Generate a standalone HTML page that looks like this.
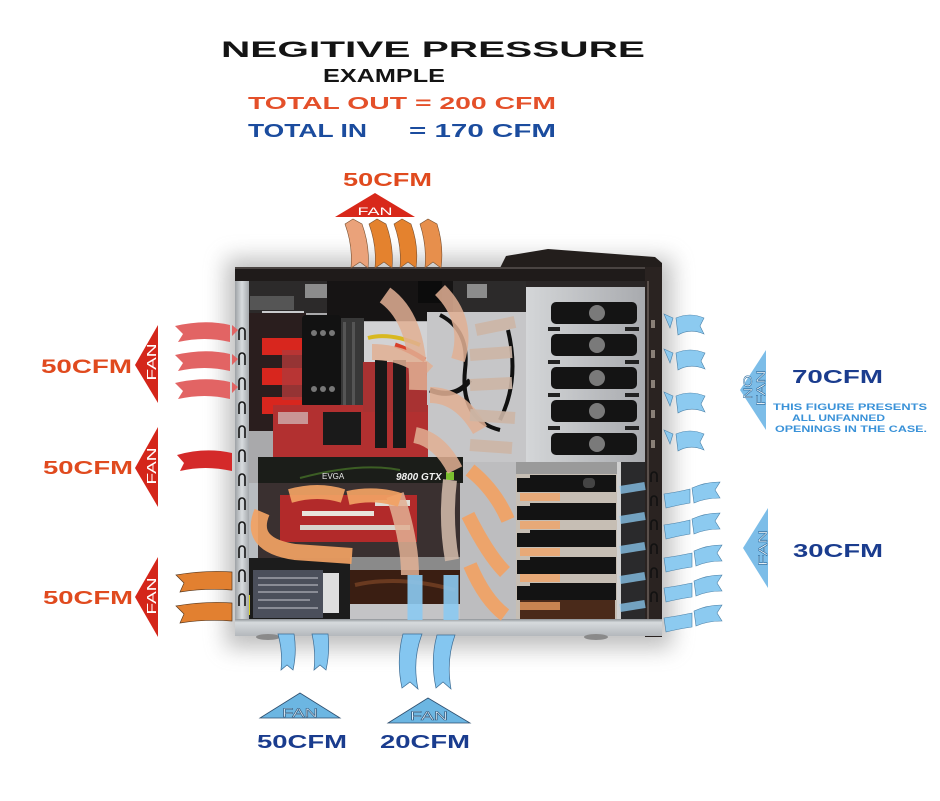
<!DOCTYPE html>
<html><head><meta charset="utf-8"><style>
html,body{margin:0;padding:0;background:#fff;}
svg{display:block;}
text{font-family:"Liberation Sans",sans-serif;font-weight:bold;}
text.n{font-weight:normal;}
</style></head><body>
<svg width="940" height="801" viewBox="0 0 940 801" xmlns="http://www.w3.org/2000/svg">
<defs>
<filter id="sh" x="-20%" y="-20%" width="140%" height="140%"><feGaussianBlur stdDeviation="11"/></filter>
<linearGradient id="rail" x1="0" y1="0" x2="0" y2="1"><stop offset="0" stop-color="#8f9498"/><stop offset="0.2" stop-color="#d6dadd"/><stop offset="1" stop-color="#b4b8bc"/></linearGradient>
<linearGradient id="lframe" x1="0" y1="0" x2="1" y2="0"><stop offset="0" stop-color="#9ea2a6"/><stop offset="0.5" stop-color="#d8dcdf"/><stop offset="1" stop-color="#a4a8ac"/></linearGradient>
<linearGradient id="bay" x1="0" y1="0" x2="1" y2="0"><stop offset="0" stop-color="#d4d6d8"/><stop offset="1" stop-color="#a8aaae"/></linearGradient>
</defs>
<rect width="940" height="801" fill="#fff"/>

<!-- TITLE -->
<text x="221" y="57" font-size="22" fill="#141414" textLength="424" lengthAdjust="spacingAndGlyphs">NEGITIVE PRESSURE</text>
<text x="323" y="82" font-size="18" fill="#141414" textLength="122" lengthAdjust="spacingAndGlyphs">EXAMPLE</text>
<text x="248" y="109" font-size="17.5" fill="#e4502a" textLength="308" lengthAdjust="spacingAndGlyphs">TOTAL OUT = 200 CFM</text>
<text x="248" y="137" font-size="18.5" fill="#1b4c9e" textLength="119" lengthAdjust="spacingAndGlyphs">TOTAL IN</text>
<text x="409" y="137" font-size="18.5" fill="#1b4c9e" textLength="147" lengthAdjust="spacingAndGlyphs">= 170 CFM</text>

<!-- CASE SHADOW -->
<rect x="226" y="258" width="446" height="390" fill="#8a8a8a" opacity="0.55" filter="url(#sh)"/>

<!-- CASE BODY -->
<polygon points="500,268 506,256 548,249 655,257 662,263 662,268" fill="#231e1c"/>
<rect x="235" y="267" width="427" height="14" fill="#1f1b1a"/>
<rect x="235" y="267" width="427" height="2" fill="#4a4442"/>
<rect x="248" y="281" width="398" height="339" fill="#a9a9ab"/>
<rect x="248" y="281" width="278" height="32" fill="#2c2a2a"/>
<rect x="327" y="281" width="126" height="40" fill="#161414"/>
<rect x="305" y="284" width="22" height="14" fill="#8c8c8c"/>
<rect x="467" y="284" width="20" height="14" fill="#8c8c8c"/>
<rect x="418" y="281" width="24" height="22" fill="#0c0c0c"/>
<rect x="250" y="296" width="44" height="14" fill="#555"/>
<rect x="262" y="311" width="42" height="14" fill="#c9cbcd"/>
<rect x="248" y="313" width="58" height="118" fill="#2a1e1e"/>
<rect x="262" y="338" width="42" height="17" fill="#d8261e"/>
<rect x="262" y="368" width="42" height="17" fill="#d8261e"/>
<rect x="262" y="397" width="42" height="17" fill="#d8261e"/>
<rect x="282" y="350" width="20" height="50" fill="#b03a3a" opacity="0.8"/>
<rect x="363" y="322" width="64" height="42" fill="#d2d2d4"/>
<rect x="427" y="312" width="99" height="150" fill="#c6c6c8"/>
<rect x="460" y="462" width="57" height="158" fill="#bdbdbf"/>
<rect x="302" y="315" width="39" height="93" rx="4" fill="#121212"/>
<rect x="341" y="318" width="23" height="92" fill="#383838"/>
<rect x="343" y="322" width="3" height="85" fill="#555"/>
<rect x="352" y="322" width="3" height="85" fill="#555"/>
<circle cx="314" cy="333" r="3" fill="#777"/><circle cx="323" cy="333" r="3" fill="#777"/><circle cx="332" cy="333" r="3" fill="#777"/>
<circle cx="314" cy="389" r="3" fill="#777"/><circle cx="323" cy="389" r="3" fill="#777"/><circle cx="332" cy="389" r="3" fill="#777"/>
<rect x="273" y="405" width="155" height="53" fill="#b23030"/>
<rect x="363" y="362" width="64" height="50" fill="#a83232"/>
<rect x="375" y="360" width="12" height="88" fill="#181818"/>
<rect x="393" y="360" width="13" height="88" fill="#181818"/>
<rect x="323" y="412" width="38" height="33" fill="#1a1a1a"/>
<rect x="278" y="412" width="30" height="12" fill="#d8d8d8" opacity="0.6"/>
<path d="M368,338 Q390,332 420,345" stroke="#d8b820" stroke-width="4" fill="none"/>
<path d="M395,345 Q410,350 425,360" stroke="#d8402a" stroke-width="5" fill="none"/>
<path d="M440,315 Q470,330 465,370 Q460,420 500,430" stroke="#111" stroke-width="4" fill="none"/>
<path d="M508,330 Q520,380 500,420" stroke="#111" stroke-width="4" fill="none"/>
<path d="M430,390 Q455,400 470,380" stroke="#111" stroke-width="5" fill="none"/>
<rect x="526" y="281" width="120" height="8" fill="#2a2626"/>
<rect x="526" y="287" width="120" height="176" fill="url(#bay)"/>
<g fill="#141414">
<rect x="551" y="302" width="86" height="22" rx="5"/>
<rect x="551" y="334" width="86" height="22" rx="5"/>
<rect x="551" y="367" width="86" height="22" rx="5"/>
<rect x="551" y="400" width="86" height="22" rx="5"/>
<rect x="551" y="433" width="86" height="22" rx="5"/>
</g>
<g fill="#7a7a7a">
<circle cx="597" cy="313" r="8"/><circle cx="597" cy="345" r="8"/><circle cx="597" cy="378" r="8"/><circle cx="597" cy="411" r="8"/><circle cx="597" cy="444" r="8"/>
</g>
<g fill="#222">
<rect x="548" y="327" width="12" height="4"/><rect x="625" y="327" width="14" height="4"/>
<rect x="548" y="360" width="12" height="4"/><rect x="625" y="360" width="14" height="4"/>
<rect x="548" y="393" width="12" height="4"/><rect x="625" y="393" width="14" height="4"/>
<rect x="548" y="426" width="12" height="4"/><rect x="625" y="426" width="14" height="4"/>
</g>
<rect x="258" y="457" width="205" height="26" fill="#1b1d19"/>
<path d="M300,478 Q360,462 400,470" stroke="#4a7a2a" stroke-width="2" fill="none" opacity="0.7"/>
<text class="n" x="322" y="479" font-size="8" fill="#e8e8e8">EVGA</text>
<text x="396" y="480" font-size="10" fill="#f0f0f0" font-style="italic">9800 GTX</text>
<rect x="446" y="472" width="8" height="8" fill="#7cc030"/>
<rect x="248" y="483" width="212" height="75" fill="#3a3030"/>
<rect x="248" y="483" width="10" height="75" fill="#b8bcc0"/>
<rect x="280" y="495" width="137" height="47" fill="#b22a2a"/>
<rect x="302" y="511" width="72" height="5" fill="#e8e4dc"/>
<rect x="300" y="525" width="110" height="5" fill="#d8d4cc"/>
<rect x="375" y="500" width="35" height="6" fill="#e0dcd4"/>
<rect x="243" y="558" width="107" height="62" fill="#1c1c1c"/>
<rect x="253" y="570" width="70" height="48" fill="#4b4f5b"/>
<g stroke="#c8c8d0" stroke-width="1">
<line x1="258" y1="578" x2="318" y2="578"/><line x1="258" y1="585" x2="318" y2="585"/><line x1="258" y1="592" x2="318" y2="592"/><line x1="258" y1="600" x2="310" y2="600"/><line x1="258" y1="608" x2="318" y2="608"/>
</g>
<rect x="323" y="573" width="16" height="40" fill="#dedede"/>
<rect x="244" y="595" width="6" height="20" fill="#d8d020"/>
<rect x="350" y="570" width="110" height="34" fill="#3a1e12"/>
<path d="M355,585 Q400,575 455,590" stroke="#6a3a20" stroke-width="4" fill="none"/>
<rect x="350" y="604" width="110" height="16" fill="#c4c4c6"/>
<rect x="350" y="557" width="110" height="13" fill="#8a8a8a"/>
<rect x="516" y="462" width="103" height="158" fill="#c6beb4"/>
<rect x="516" y="462" width="103" height="12" fill="#9a9a9a"/>
<path d="M520,600 Q560,585 615,600 L615,620 L520,620 Z" fill="#4a2a1a"/>
<g fill="#131313">
<rect x="530" y="475" width="86" height="17"/><rect x="517" y="478" width="13" height="14"/>
<rect x="530" y="503" width="86" height="17"/><rect x="517" y="506" width="13" height="14"/>
<rect x="530" y="530" width="86" height="17"/><rect x="517" y="533" width="13" height="14"/>
<rect x="530" y="557" width="86" height="17"/><rect x="517" y="560" width="13" height="14"/>
<rect x="530" y="583" width="86" height="17"/><rect x="517" y="586" width="13" height="14"/>
</g>
<rect x="583" y="478" width="12" height="10" rx="4" fill="#444"/>
<rect x="619" y="462" width="28" height="158" fill="#2a2a2c"/>
<rect x="617" y="462" width="4" height="158" fill="#d0d0d0"/>
<rect x="645" y="267" width="17" height="370" fill="#2a2321"/>
<rect x="647" y="281" width="2" height="340" fill="#5a504c"/>
<g fill="none" stroke="#111" stroke-width="1.6">
<path d="M651,482 v-7 a3,3 0 0 1 6,0 v7"/><path d="M651,506 v-7 a3,3 0 0 1 6,0 v7"/><path d="M651,530 v-7 a3,3 0 0 1 6,0 v7"/><path d="M651,554 v-7 a3,3 0 0 1 6,0 v7"/><path d="M651,578 v-7 a3,3 0 0 1 6,0 v7"/><path d="M651,602 v-7 a3,3 0 0 1 6,0 v7"/>
</g>
<g fill="#8a8078">
<rect x="651" y="320" width="4" height="8"/><rect x="651" y="350" width="4" height="8"/><rect x="651" y="380" width="4" height="8"/><rect x="651" y="410" width="4" height="8"/><rect x="651" y="440" width="4" height="8"/>
</g>
<rect x="235" y="281" width="14" height="354" fill="url(#lframe)"/>
<g fill="none" stroke="#151515" stroke-width="1.6">
<path d="M239,340 v-9 a3,3 0 0 1 6,0 v9"/><path d="M239,365 v-9 a3,3 0 0 1 6,0 v9"/><path d="M239,390 v-9 a3,3 0 0 1 6,0 v9"/><path d="M239,414 v-9 a3,3 0 0 1 6,0 v9"/><path d="M239,438 v-9 a3,3 0 0 1 6,0 v9"/><path d="M239,462 v-9 a3,3 0 0 1 6,0 v9"/><path d="M239,486 v-9 a3,3 0 0 1 6,0 v9"/><path d="M239,510 v-9 a3,3 0 0 1 6,0 v9"/><path d="M239,534 v-9 a3,3 0 0 1 6,0 v9"/><path d="M239,558 v-9 a3,3 0 0 1 6,0 v9"/><path d="M239,582 v-9 a3,3 0 0 1 6,0 v9"/><path d="M239,606 v-9 a3,3 0 0 1 6,0 v9"/>
</g>
<rect x="235" y="619" width="427" height="17" fill="url(#rail)"/>
<ellipse cx="268" cy="637" rx="12" ry="3" fill="#8a8a8a"/>
<ellipse cx="596" cy="637" rx="12" ry="3" fill="#8a8a8a"/>

<!-- TRANSLUCENT INNER ARROWS -->
<g fill="none" stroke-linecap="butt">
<g stroke="#e2b094" opacity="0.85">
<path d="M385,295 Q420,320 418,390" stroke-width="18"/>
<path d="M372,352 Q405,352 428,372" stroke-width="16"/>
<path d="M440,290 Q470,320 458,360" stroke-width="14"/>
<path d="M430,395 Q460,395 480,430" stroke-width="16"/>
<path d="M415,435 Q440,440 455,470" stroke-width="16"/>
<path d="M395,495 Q410,540 410,575" stroke-width="18"/>
</g>
<g stroke="#cdb6a6" opacity="0.9">
<path d="M476,330 L515,322" stroke-width="12"/>
<path d="M470,355 L512,352" stroke-width="12"/>
<path d="M470,385 L512,383" stroke-width="12"/>
<path d="M470,415 L515,418" stroke-width="12"/>
<path d="M470,445 L512,448" stroke-width="12"/>
<path d="M450,480 Q445,520 452,560" stroke-width="14"/>
</g>
<g stroke="#f2a264" opacity="0.92">
<path d="M470,470 Q495,490 508,520" stroke-width="14"/>
<path d="M468,515 Q488,555 505,572" stroke-width="14"/>
<path d="M470,565 Q485,600 505,615" stroke-width="14"/>
<path d="M290,496 Q318,488 343,496" stroke-width="14"/>
<path d="M348,498 Q375,492 400,500" stroke-width="14"/>
<path d="M262,512 Q248,545 295,552 L352,556" stroke-width="16"/>
</g>
<g stroke="#f2a264" opacity="0.75">
<path d="M520,497 L560,497"  stroke-width="8"/>
<path d="M520,525 L560,525"  stroke-width="8"/>
<path d="M520,552 L560,552"  stroke-width="8"/>
<path d="M520,578 L560,578"  stroke-width="8"/>
<path d="M520,606 L560,606"  stroke-width="8"/>
</g>
<g stroke="#8ccaf2" opacity="0.9">
<path d="M415,575 L415,620" stroke-width="15"/>
<path d="M451,575 L451,620" stroke-width="15"/>
</g>
<g stroke="#8ccaf2" opacity="0.75">
<path d="M620,490 L645,486" stroke-width="8"/>
<path d="M620,520 L645,516" stroke-width="8"/>
<path d="M620,550 L645,546" stroke-width="8"/>
<path d="M620,580 L645,576" stroke-width="8"/>
<path d="M620,608 L645,604" stroke-width="8"/>
</g>
</g>

<!-- TOP EXHAUST -->
<text x="343" y="186" font-size="18" fill="#e04a1e" textLength="89" lengthAdjust="spacingAndGlyphs">50CFM</text>
<polygon points="375,193 335,217 415,217" fill="#d8281a"/>
<text class="n" x="375" y="215" font-size="11" fill="#fff" text-anchor="middle" textLength="35" lengthAdjust="spacingAndGlyphs">FAN</text>
<g stroke="#7a5030" stroke-width="0.6">
<path d="M345,224 L353,219 L362,224 Q370,246 368,268 L360,262 L351,268 Q353,246 345,224Z" fill="#eaa27a"/>
<path d="M369,224 L377,219 L386,224 Q394,246 392,268 L384,262 L375,268 Q377,246 369,224Z" fill="#e4822e"/>
<path d="M394,224 L402,219 L411,224 Q419,246 416,268 L408,262 L400,268 Q402,246 394,224Z" fill="#e4822e"/>
<path d="M420,224 L428,219 L437,224 Q444,246 441,268 L433,262 L425,268 Q427,246 420,224Z" fill="#e78f4c"/>
</g>

<!-- LEFT EXHAUSTS -->
<g>
<text x="41" y="373" font-size="19" fill="#e04a1e" textLength="91" lengthAdjust="spacingAndGlyphs">50CFM</text>
<polygon points="135,365 158,325 158,403" fill="#d4261a"/>
<text class="n" transform="translate(156,362) rotate(-90)" font-size="12.5" fill="#fff" text-anchor="middle" textLength="37" lengthAdjust="spacingAndGlyphs">FAN</text>
<text x="43" y="474" font-size="18" fill="#e04a1e" textLength="90" lengthAdjust="spacingAndGlyphs">50CFM</text>
<polygon points="135,468 158,427 158,507" fill="#d4261a"/>
<text class="n" transform="translate(156,466) rotate(-90)" font-size="12.5" fill="#fff" text-anchor="middle" textLength="37" lengthAdjust="spacingAndGlyphs">FAN</text>
<text x="43" y="604" font-size="18" fill="#e04a1e" textLength="90" lengthAdjust="spacingAndGlyphs">50CFM</text>
<polygon points="135,597 158,557 158,637" fill="#d4261a"/>
<text class="n" transform="translate(156,596) rotate(-90)" font-size="12.5" fill="#fff" text-anchor="middle" textLength="37" lengthAdjust="spacingAndGlyphs">FAN</text>
</g>
<g>
<path d="M175,326 Q205,319 230,325 L230,342 Q205,336 178,342 L183,334 Z" fill="#e26464"/>
<path d="M175,355 Q205,348 230,354 L230,371 Q205,365 178,371 L183,363 Z" fill="#e26464"/>
<path d="M175,383 Q205,376 230,382 L230,399 Q205,393 178,399 L183,391 Z" fill="#e26464"/>
<path d="M232,325 L238,330 L232,336Z M232,354 L238,359 L232,365Z M232,382 L238,387 L232,393Z" fill="#e26464"/>
<path d="M177,455 Q205,447 232,453 L232,471 Q205,465 180,471 L184,463 Z" fill="#d42a2a"/>
<path d="M176,575 Q205,570 232,572 L232,590 Q205,588 180,592 L184,583 Z" fill="#e28030" stroke="#5a3a20" stroke-width="0.7"/>
<path d="M176,606 Q205,601 232,603 L232,621 Q205,619 180,623 L184,614 Z" fill="#e28030" stroke="#5a3a20" stroke-width="0.7"/>
</g>

<!-- RIGHT INTAKES -->
<polygon points="740,390 766,350 766,430" fill="#7cbde8"/>
<text class="n" transform="translate(752,387) rotate(-90)" font-size="12" fill="#fff" stroke="#2e6ea0" stroke-width="0.5" text-anchor="middle" textLength="24" lengthAdjust="spacingAndGlyphs">NO</text>
<text class="n" transform="translate(765,388) rotate(-90)" font-size="12" fill="#fff" stroke="#2e6ea0" stroke-width="0.5" text-anchor="middle" textLength="36" lengthAdjust="spacingAndGlyphs">FAN</text>
<text x="792" y="383" font-size="18" fill="#1a3c8e" textLength="91" lengthAdjust="spacingAndGlyphs">70CFM</text>
<text x="773" y="410" font-size="9" fill="#3a92d8" textLength="154" lengthAdjust="spacingAndGlyphs">THIS FIGURE  PRESENTS</text>
<text x="792" y="421" font-size="9" fill="#3a92d8" textLength="93" lengthAdjust="spacingAndGlyphs">ALL UNFANNED</text>
<text x="775" y="432" font-size="9" fill="#3a92d8" textLength="152" lengthAdjust="spacingAndGlyphs">OPENINGS IN THE CASE.</text>

<polygon points="743,548 768,508 768,588" fill="#7cbde8"/>
<text class="n" transform="translate(767,548) rotate(-90)" font-size="12" fill="#fff" stroke="#2e6ea0" stroke-width="0.5" text-anchor="middle" textLength="36" lengthAdjust="spacingAndGlyphs">FAN</text>
<text x="793" y="557" font-size="18" fill="#1a3c8e" textLength="90" lengthAdjust="spacingAndGlyphs">30CFM</text>

<g fill="#8ccaf0" stroke="#4a80a8" stroke-width="0.6">
<path d="M676,318 Q690,312 704,318 L700,326 L704,334 Q690,328 678,335 Z"/>
<path d="M664,314 L673,318 L670,328 Z"/>
<path d="M676,353 Q690,347 705,353 L701,361 L705,369 Q690,363 678,370 Z"/>
<path d="M664,349 L673,353 L670,363 Z"/>
<path d="M676,396 Q690,390 705,396 L701,404 L705,412 Q690,406 678,413 Z"/>
<path d="M664,392 L673,396 L670,406 Z"/>
<path d="M676,434 Q690,428 704,434 L700,442 L704,450 Q690,444 678,451 Z"/>
<path d="M664,430 L673,434 L670,444 Z"/>
<path d="M692,488 Q705,482 720,482 L715,490 L720,498 Q705,498 694,503 Z"/>
<path d="M664,494 Q678,492 690,489 L690,503 Q678,505 666,508 Z"/>
<path d="M692,519 Q705,513 720,513 L715,521 L720,529 Q705,529 694,534 Z"/>
<path d="M664,525 Q678,523 690,520 L690,534 Q678,536 666,539 Z"/>
<path d="M694,551 Q707,545 722,545 L717,553 L722,561 Q707,561 696,566 Z"/>
<path d="M664,558 Q678,556 692,553 L692,567 Q678,569 666,572 Z"/>
<path d="M694,581 Q707,575 722,575 L717,583 L722,591 Q707,591 696,596 Z"/>
<path d="M664,588 Q678,586 692,583 L692,597 Q678,599 666,602 Z"/>
<path d="M694,611 Q707,605 722,605 L717,613 L722,621 Q707,621 696,626 Z"/>
<path d="M664,618 Q678,616 692,613 L692,627 Q678,629 666,632 Z"/>
</g>

<!-- BOTTOM INTAKES -->
<g fill="#84c6f0" stroke="#3c6c94" stroke-width="0.7">
<path d="M278,634 L294,634 Q297,652 293,670 L287,665 L281,670 Q283,652 278,634Z"/>
<path d="M312,634 L328,634 Q330,652 326,670 L320,665 L314,670 Q316,652 312,634Z"/>
<path d="M403,634 L422,634 Q412,660 418,689 L410,682 L402,688 Q396,660 403,634Z"/>
<path d="M437,635 L455,635 Q446,660 451,689 L443,682 L436,688 Q430,660 437,635Z"/>
</g>
<polygon points="300,693 260,718 340,718" fill="#6cb6e2" stroke="#2e4e6e" stroke-width="0.8"/>
<text class="n" x="300" y="717" font-size="12" fill="#e6f4ff" stroke="#35597a" stroke-width="0.5" text-anchor="middle" textLength="36" lengthAdjust="spacingAndGlyphs">FAN</text>
<polygon points="428,698 388,723 470,723" fill="#6cb6e2" stroke="#2e4e6e" stroke-width="0.8"/>
<text class="n" x="429" y="720" font-size="12" fill="#e6f4ff" stroke="#35597a" stroke-width="0.5" text-anchor="middle" textLength="38" lengthAdjust="spacingAndGlyphs">FAN</text>
<text x="257" y="748" font-size="18" fill="#1a3c8e" textLength="90" lengthAdjust="spacingAndGlyphs">50CFM</text>
<text x="380" y="748" font-size="18" fill="#1a3c8e" textLength="90" lengthAdjust="spacingAndGlyphs">20CFM</text>
</svg>
</body></html>
